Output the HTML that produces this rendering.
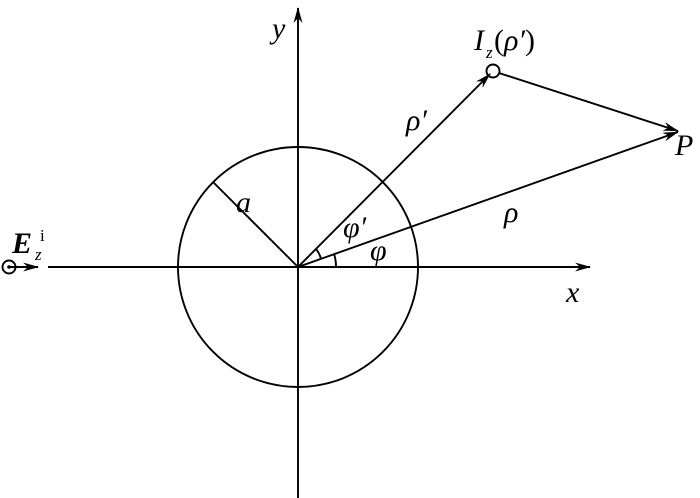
<!DOCTYPE html>
<html><head><style>body{margin:0;background:#fff}svg{display:block}text{font-family:"Liberation Serif",serif;font-style:italic;fill:#000}</style></head>
<body>
<svg width="700" height="498" viewBox="0 0 700 498">
<defs><marker id="ar" markerWidth="16" markerHeight="9" refX="15" refY="4.5" orient="auto" markerUnits="userSpaceOnUse"><path d="M0,0 L16,4.5 L0,9 L5,4.5 Z" fill="#000"/></marker></defs>
<g stroke="#000" stroke-width="1.9" fill="none">
<line x1="48" y1="267" x2="590" y2="267" marker-end="url(#ar)"/>
<line x1="298" y1="498" x2="298" y2="8" marker-end="url(#ar)"/>
<circle cx="298" cy="267" r="120"/>
<line x1="298" y1="267" x2="213" y2="182"/>
<line x1="298" y1="267" x2="490" y2="74" marker-end="url(#ar)"/>
<line x1="298" y1="267" x2="678" y2="132" marker-end="url(#ar)"/>
<line x1="499" y1="73" x2="678" y2="131" marker-end="url(#ar)"/>
<circle cx="493" cy="71" r="6.5"/>
<circle cx="9" cy="267" r="6.5"/>
<line x1="9" y1="267" x2="38" y2="267" marker-end="url(#ar)"/>
<path d="M336,267 A38,38 0 0 0 334,254"/>
<path d="M321,259 A25,25 0 0 0 316,249"/>
</g>
<circle cx="9" cy="267" r="1.8" fill="#000"/>
<text x="272" y="38" font-size="30">y</text>
<text x="566" y="302" font-size="30">x</text>
<text x="236" y="212" font-size="30">a</text>
<text x="406" y="130" font-size="30">ρ′</text>
<text x="504" y="222" font-size="30">ρ</text>
<text x="343" y="237" font-size="30">φ′</text>
<text x="370" y="260" font-size="30">φ</text>
<text x="675" y="155" font-size="30">P</text>
<text x="474" y="50" font-size="30">I</text>
<text x="486" y="58" font-size="17">z</text>
<text x="494" y="50" font-size="30"><tspan style="font-style:normal">(</tspan>ρ′<tspan style="font-style:normal">)</tspan></text>
<text x="12" y="253" font-size="30" font-weight="bold">E</text>
<text x="35" y="260" font-size="17">z</text>
<text x="40" y="241" font-size="17" style="font-style:normal">i</text>
</svg>
</body></html>
